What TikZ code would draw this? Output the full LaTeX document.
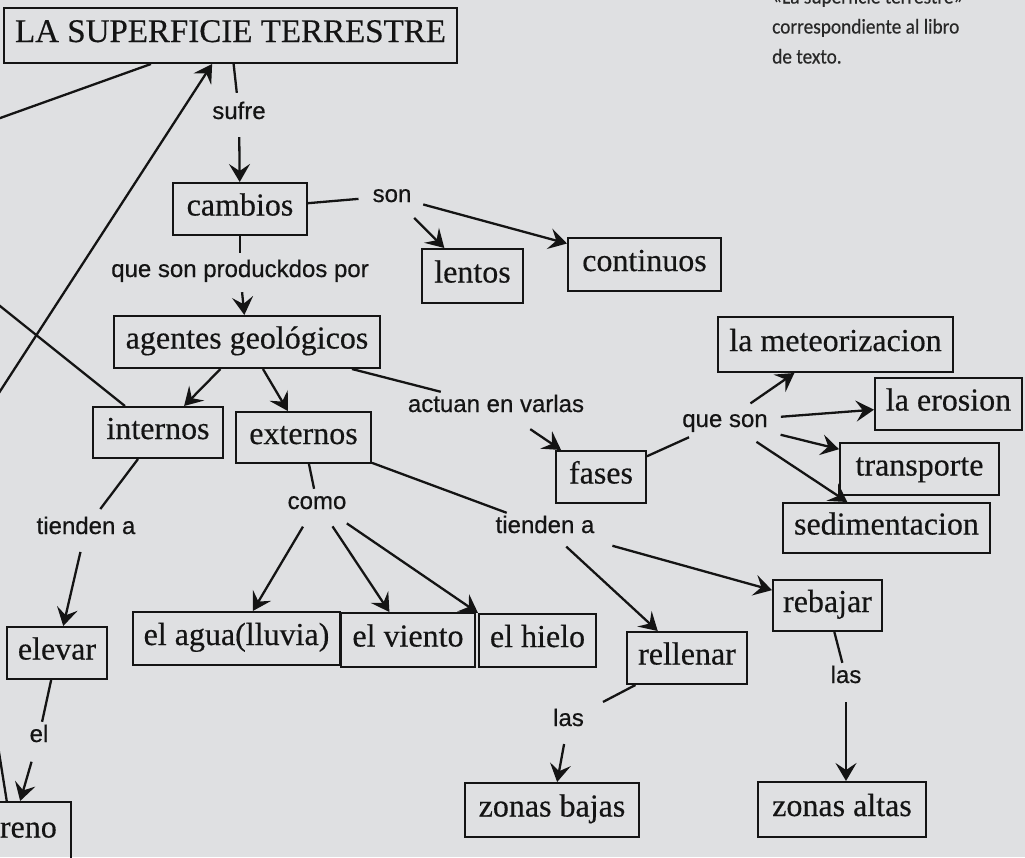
\documentclass[tikz,border=0pt]{standalone}
\usepackage{fontspec}
\setmainfont{Liberation Serif}[FakeBold=0.4]
\newfontfamily\lblfont{Liberation Sans}[FakeBold=0.5]
\newfontfamily\capfont{Carlito}[FakeBold=0.35,FakeStretch=0.92]
\usetikzlibrary{arrows.meta}
\definecolor{bg}{RGB}{223,224,226}
\definecolor{ink}{RGB}{20,20,20}
\definecolor{capink}{RGB}{40,40,40}
\tikzset{
  box/.style={draw=ink, line width=2pt, inner sep=0pt, text=ink,
    font=\fontsize{32}{38}\selectfont, text height=21pt, text depth=8pt},
  lbl/.style={inner sep=3pt, text=ink, font=\lblfont\fontsize{24}{28}\selectfont,
    text height=17pt, text depth=5pt},
  ln/.style={draw=ink, line width=2.3pt},
  arr/.style={ln, -{Stealth[length=18pt,width=21pt,inset=7pt]}},
  caption/.style={inner sep=0pt, text=capink, align=left,
    font=\capfont\fontsize{21}{30}\selectfont}
}
\begin{document}
\begin{tikzpicture}[x=1pt,y=-1pt]
\useasboundingbox (0,0) rectangle (1025,857);
\fill[bg] (0,0) rectangle (1025,857);
\clip (0,0) rectangle (1025,857);

% caption
\node[caption, anchor=base west] (cap) at (772,63.5) {«La superficie terrestre»\\correspondiente al libro\\de texto.};

% boxes
\node[box, minimum width=453pt, minimum height=55pt, font=\fontsize{33}{38}\selectfont] (title) at (230.5,35.5) {LA SUPERFICIE TERRESTRE};
\node[box, minimum width=134pt, minimum height=52pt] (cambios) at (240,209) {cambios};
\node[box, minimum width=101pt, minimum height=54pt] (lentos) at (472.5,276) {lentos};
\node[box, minimum width=153pt, minimum height=53pt] (continuos) at (644.5,264.5) {continuos};
\node[box, minimum width=266pt, minimum height=52pt] (agentes) at (247,342) {agentes geológicos};
\node[box, minimum width=130pt, minimum height=51pt] (internos) at (158,432.5) {internos};
\node[box, minimum width=135pt, minimum height=51pt] (externos) at (303.5,437.5) {externos};
\node[box, minimum width=90pt, minimum height=52pt] (fases) at (601,477) {fases};
\node[box, minimum width=235pt, minimum height=55pt] (meteor) at (835.5,344.5) {la meteorizacion};
\node[box, minimum width=147pt, minimum height=52pt] (erosion) at (948.5,404) {la erosion};
\node[box, minimum width=159pt, minimum height=52pt] (transporte) at (919.5,469) {transporte};
\node[box, minimum width=207pt, minimum height=50pt] (sedim) at (886.5,528) {sedimentacion};
\node[box, minimum width=207pt, minimum height=53pt] (agua) at (236.5,638.5) {el agua(lluvia)};
\node[box, minimum width=134pt, minimum height=54pt] (viento) at (408,640) {el viento};
\node[box, minimum width=117pt, minimum height=53pt] (hielo) at (537.5,640.5) {el hielo};
\node[box, minimum width=100pt, minimum height=52pt] (elevar) at (57,653) {elevar};
\node[box, minimum width=119pt, minimum height=58pt] (terreno) at (11.5,831) {terreno};
\node[box, minimum width=109pt, minimum height=51pt] (rebajar) at (827.5,605.5) {rebajar};
\node[box, minimum width=120pt, minimum height=52pt] (rellenar) at (687,658) {rellenar};
\node[box, minimum width=174pt, minimum height=54pt] (zbajas) at (552,810) {zonas bajas};
\node[box, minimum width=168pt, minimum height=55pt] (zaltas) at (842,809.5) {zonas altas};

% labels
\node[lbl] (sufre) at (239,113) {sufre};
\node[lbl] (son) at (392,196) {son};
\node[lbl] (qsp) at (240,271) {que son produckdos por};
\node[lbl] (actuan) at (496,406) {actuan en varlas};
\node[lbl] (queson) at (725,421) {que son};
\node[lbl] (tlab1) at (86,528) {tienden a};
\node[lbl] (como) at (317,503) {como};
\node[lbl] (tlab2) at (545,527) {tienden a};
\node[lbl] (ellab) at (39,736) {el};
\node[lbl] (las1) at (568.5,720) {las};
\node[lbl] (las2) at (846,677) {las};

% free ends off the page
\coordinate (offA) at (-50,136);
\coordinate (offB) at (-40,453);
\coordinate (offC) at (-50,266);
\coordinate (offD) at (-12,683);

% connectors
\draw[ln, shorten >=6pt] (title) -- (sufre);
\draw[arr, shorten <=10pt] (sufre) -- (cambios);
\draw[ln, shorten >=11pt] (cambios) -- (son);
\draw[arr, shorten <=11pt] (son) -- (lentos);
\draw[arr, shorten <=9pt] (son) -- (continuos);
\draw[ln, shorten >=4pt] (cambios) -- (qsp);
\draw[arr, shorten <=7pt] (qsp) -- (agentes);
\draw[arr] (agentes) -- (internos);
\draw[arr] (agentes) -- (externos);
\draw[ln] (agentes) -- (actuan);
\draw[arr, shorten <=16pt] (actuan) -- (fases);
\draw[ln, shorten >=5pt] (fases) -- (queson);
\draw[arr, shorten <=6pt] (queson) -- (meteor);
\draw[arr, shorten <=10pt] (queson) -- (erosion);
\draw[arr, shorten <=10pt] (queson) -- (transporte);
\draw[arr, shorten <=12pt] (queson) -- (sedim);

\draw[ln] (offA) -- (title);
\draw[arr] (offB) -- (title);
\draw[ln] (offC) -- (internos);
\draw[ln] (offD) -- (terreno);

\draw[ln, shorten >=6pt] (internos) -- (tlab1);
\draw[arr, shorten <=10pt] (tlab1) -- (elevar);
\draw[ln] (elevar) -- (ellab);
\draw[arr, shorten <=12pt] (ellab) -- (terreno);

\draw[ln] (externos) -- (como);
\draw[arr, shorten <=11pt] (como) -- (agua);
\draw[arr, shorten <=11pt] (como) -- (viento);
\draw[arr, shorten <=11pt] (como) -- (hielo.north west);

\draw[ln] (externos) -- (tlab2);
\draw[arr, shorten <=8pt] (tlab2) -- (rellenar);
\draw[arr, shorten <=17pt] (tlab2) -- (rebajar);
\draw[ln, shorten >=18pt] (rellenar) -- (las1);
\draw[arr, shorten <=10pt] (las1) -- (zbajas);
\draw[ln] (rebajar) -- (las2);
\draw[arr, shorten <=11pt] (las2) -- (las2 |- zaltas.north);
\end{tikzpicture}
\end{document}
